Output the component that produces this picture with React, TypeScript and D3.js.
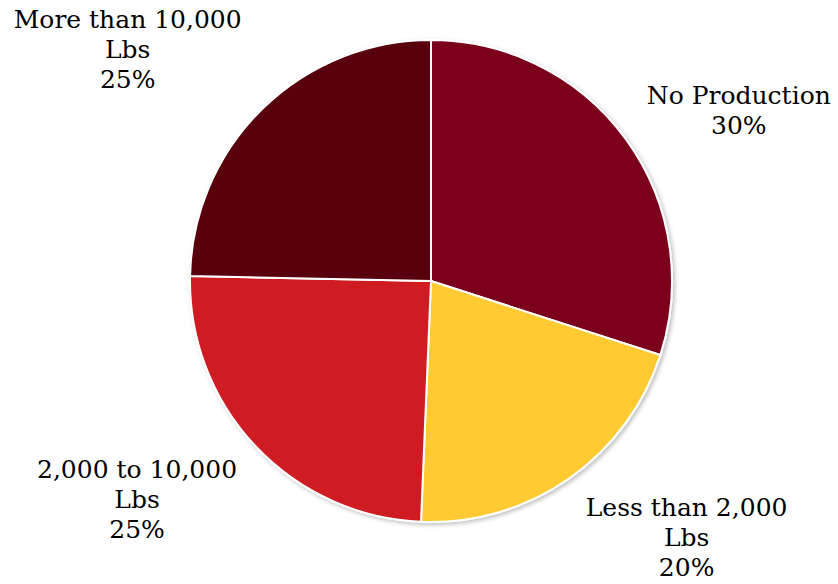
import React, { useEffect, useRef } from "react";
import * as d3 from "d3";

const categories = ["No Production", "Less than 2,000 Lbs", "2,000 to 10,000 Lbs", "More than 10,000 Lbs"];
const values = [29.97, 20.69, 24.67, 24.67];
const labelLines = [
  ["No Production", "30%"],
  ["Less than 2,000", "Lbs", "20%"],
  ["2,000 to 10,000", "Lbs", "25%"],
  ["More than 10,000", "Lbs", "25%"],
];
const colors = ["#7A001C", "#FFCA33", "#CE1C23", "#590009"];
const labelNudgeX = [4, 5, -3, -6];
const labelNudgeY = [14, -3, -6, 1];

const W = 838, H = 584;
const CX = 431, CY = 281, R = 241;
const LABEL_R = 262;
const FONT = 25;
const LINE_H = 30;

export default function App() {
  const ref = useRef<SVGSVGElement>(null);
  useEffect(() => {
    const svg = d3.select(ref.current);
    svg.selectAll("*").remove();
    const defs = svg.append("defs");
    const f = defs.append("filter").attr("id", "sh").attr("x", "-10%").attr("y", "-10%").attr("width", "120%").attr("height", "120%");
    f.append("feDropShadow").attr("dx", 2).attr("dy", 2).attr("stdDeviation", 2).attr("flood-color", "#000").attr("flood-opacity", 0.25);

    const pie = d3.pie<number>().sort(null).value((d) => d);
    const arcs = pie(values);
    const arc = d3.arc<d3.PieArcDatum<number>>().innerRadius(0).outerRadius(R);
    const g = svg.append("g").attr("transform", `translate(${CX},${CY})`);
    g.append("g").attr("filter", "url(#sh)")
      .selectAll("path").data(arcs).join("path")
      .attr("d", arc as any)
      .attr("fill", (_d, i) => colors[i])
      .attr("stroke", "#fff").attr("stroke-width", 2).attr("stroke-linejoin", "round");

    arcs.forEach((a, i) => {
      const mid = (a.startAngle + a.endAngle) / 2;
      const px = CX + LABEL_R * Math.sin(mid);
      const py = CY - LABEL_R * Math.cos(mid);
      const t = svg.append("text")
        .attr("font-family", "DejaVu Serif")
        .attr("font-size", FONT)
        .attr("fill", "#000")
        .attr("text-anchor", "middle");
      labelLines[i].forEach((l, j) => {
        t.append("tspan").attr("x", 0).attr("y", j * LINE_H).text(l);
      });
      const bb = (t.node() as SVGTextElement).getBBox();
      const right = Math.sin(mid) >= 0;
      const below = Math.cos(mid) < 0;
      const boxW = bb.width;
      const boxH = labelLines[i].length * LINE_H;
      const cx = (right ? px + boxW / 2 : px - boxW / 2) + labelNudgeX[i];
      const top = below ? py : py - boxH;
      const firstBaseline = top + LINE_H * 0.78 + labelNudgeY[i];
      t.selectAll("tspan").attr("x", cx);
      t.attr("transform", `translate(0,${firstBaseline})`);
    });
  }, []);
  return <svg ref={ref} width={W} height={H} style={{ position: "absolute", left: 0, top: 0, background: "#fff" }} />;
}
